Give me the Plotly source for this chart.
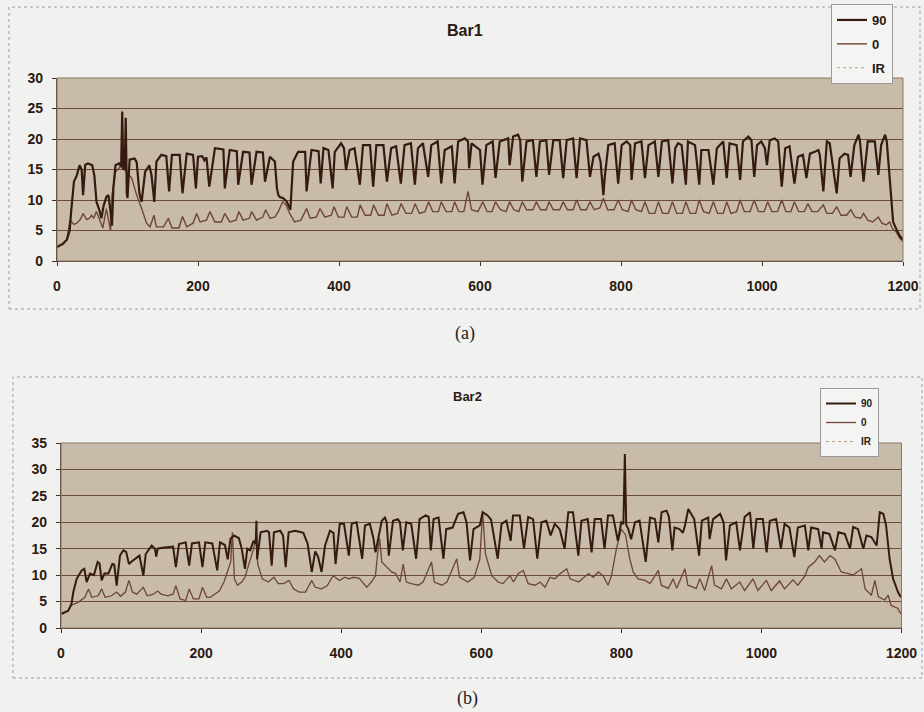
import plotly.graph_objects as go

# ---------------- Data: Bar1 (panel a) ----------------
a90_x = [0,8,14,18,20,24,28,32,35,37,40,44,50,53,56,60,63,66,70,73,76,78,80,83,88,91,92.5,94,96,97.5,99,100,103,110,113,117,120,125,131,134,138,141,148,155,159,163,174,178,184,193,197,200,206,209,212,216,224,236,238,245,255,257,264,273,276,283,292,295,302,309,312,314,316,321,326,331,335,342,352,354,361,371,374,378,385,391,
         394,403,407,410,415,422,429.6,434,444,448.5,453,463,468,474,481,487.7,493,502,507.6,512,519,526.5,531,540,545,550,560,564,569,578.5,583,584.6,588,597,600,603.5,609,618,622,628,633,640,642,647,654,657,660,666,675,680,685,694,698,704,713,718,723,732,737,742,751,756,761,768,771,775,777,782,791,796,
         801,808,813,815,820,829,834,839,848,853,858,867,873,877,881,886,892,895,905,911,914,924,931,936,945,950,954,964,969,973,980.6,985,989,993,999,1004,1007,1011,1018,1023,1028,1033,1039,1046,1051,1058,1063,1068,1075,1080,1082,1087,1092,1096,1106,1110,1117,1122,1125.6,1131,1137,1139,1144,1150,1160,1165,1169,1174.6,1177,1181.5,1184,1186,1191,1196,1200]
a90_y = [2.3,2.8,3.5,5,8,13,14,15.7,15,10.8,15.8,16,15.7,14,9.7,8.4,7,9,10.5,10.8,8,5.8,12,15.7,16,15.5,24.5,15,15.2,23.5,11,10.3,16.6,16.8,16.2,11,9.7,14.6,15.7,14.1,9.7,16.3,17.4,17.2,11.4,17.4,17.4,11.1,17.6,17.4,11.9,17.1,17.2,16.5,17,12.2,18.5,18.3,11.9,18.2,18,12.5,17.9,17.8,12.5,17.9,17.8,13,17.1,16.3,11.9,10.8,10.5,10.3,9.7,8.4,16.3,17.9,17.9,11.4,18.2,18,12.7,18.5,18.2,11.9,
         17.9,19.3,18.5,14.9,18.2,18.5,12.5,19,19,12.2,19,19,13,18.5,18.8,12.7,19,19.3,12.5,18.5,19.3,13.8,19,19.6,12.7,18.2,18.8,12.7,19.6,20.1,19.6,15.2,19.3,18.5,18.2,12.5,19,19.6,13.6,19.6,19.8,20.1,15.7,20.4,20.7,19.8,13,19.6,19.8,13.8,19.6,19.8,14.1,19.8,19.8,13.6,19.8,20.1,13.6,20.1,19.8,13.8,17.1,17.6,16.3,10.8,13.8,19,19.3,12.7,
         19,19.6,19,13.3,19.3,19.6,13.6,19,19.6,13.8,19.6,19.8,12.7,18.5,19.3,19,12.5,19.6,19,12.5,18.2,18.2,12.5,18.5,19.6,13.6,19.3,19,13.3,19.6,20.4,19.8,13.8,19,19.6,18.5,15.7,19.8,20.1,19.6,12.2,18.5,18.8,12.7,17.1,17.4,13.6,17.6,17.9,18.2,17.4,11.4,19.6,19.3,11.1,16.8,17.6,17.4,13.8,19,20.7,19.6,13,19.6,19.6,14.1,19,20.7,19.6,13.6,9.7,6.4,5.1,4,3.5]

a0_x = [0,8,14,18.4,24,28,33,37,42,46,49,52,56,60,65,70,73,76,78,83,90,96,106,113,120,127,132,137.5,141,151,158,163,173,178,184,193,198,203,212,217,224,233,238,245,254,258,264,273,276,283,292,296,302,309,314,320,325,330,337,346,354,359,368,373,380,389,393,399,407,411,418,426,430,437,445,449,456,464,468,475,483,488,495,503,508,514,522,527,533,541,545,552,560,564,570,577,583,588,597,604,610,617,622,629,637,642,648,655,660,666,675,680,686,694,698,704,713,718,724,732,737,743,751,756,762,770,775,781,790,796,802,810,815,821,829,834,840,848,853,859,867,873,879,887,892,898,906,911,917,925,931,937,945,950,956,964,969,975,983,989,995,1003,1008,1014,1022,1028,1034,1041,1046,1052,1060,1065,1071,1079,1087,1092,1100,1106,1112,1120,1126,1132,1140,1144,1150,1157,1165,1170,1176,1181,1185,1190,1195,1200]
a0_y = [2.3,2.8,3.5,6.7,6,6.2,6.8,7.8,6.8,7,7.5,7,8.1,7,5.4,8.6,7,5,10.8,14.6,15.5,14.9,13.6,10.8,8.6,6.2,5.6,7.5,5.6,5.6,7,5.4,5.4,7.3,5.6,6.2,7.8,6.4,6.7,8.1,6.4,6.4,7.8,6.4,6.7,8.1,6.7,7,8.1,6.7,7.2,8.4,7,7.2,8.1,9.7,9.2,7.8,6.4,6.7,8.6,7,7.2,8.6,7.2,7.5,8.9,7.2,7.2,8.9,7.2,7.2,9.2,7.5,7.5,9.2,7.5,7.5,9.4,7.5,7.8,9.4,7.8,7.8,9.4,7.8,8.1,9.7,8.1,8.1,9.7,8.1,8.1,9.7,8.1,8.1,11.4,8.4,8.1,9.7,8.1,8.1,9.7,8.4,8.1,9.7,8.4,8.1,9.7,8.4,8.4,9.7,8.4,8.4,9.7,8.4,8.4,9.7,8.4,8.4,10,8.4,8.4,9.7,8.4,8.7,10.3,8.4,8.4,10,8.4,8.1,10,8.4,8.1,9.7,7.8,7.8,9.7,7.8,7.8,9.7,7.8,7.8,9.7,7.8,7.8,10,8.1,7.8,9.7,7.8,7.8,9.7,7.8,8.1,10,8.1,8.1,10,8.1,8.1,9.7,8.1,8.1,10,8.1,8.1,9.7,8.1,8.1,9.4,8.1,8.1,9.2,7.8,7.8,8.9,7.5,7.5,8.4,7.2,7,7.8,6.7,6.4,7.2,6.2,5.9,6.4,5.3,4.8,3.8,3.2]

aIR_x = [0,10,18,None,1160,1175,1185,1192,1200]
aIR_y = [2.1,2.6,4.5,None,6.0,5.4,4.6,3.4,2.7]

# ---------------- Data: Bar2 (panel b) ----------------
b90_x = [1,10.5,15,17.6,22.4,29.5,33.3,36.6,41.4,47,52.3,55,58,62,67.6,73.3,76,79.5,84.2,89,93,97,100,105.6,112,117.6,121,129.5,134,136,138,145,154,160,164,168.5,178,183,187,197,202,206,216,223,227,234,238,242,247,254,258,262.6,266,270,275,278,279,280,285,294,297,300.8,304,313,317,320.8,325,334,340,346,352,355.5,358,363,367,372,377,384,389,392,398,
         404,411,415,422,430,434,441,446,449,453,458,462.5,465,468,474,481,484,488,493,500,507,512,520.6,525,528,532,539,546,550,559,567,574.6,579,584,589,598,602,609,614,623.5,629,636,642,645.4,655,661,667,674,680,686,693,699,705,712,719,724.3,731,738.6,743,752,757.6,762,771,776,781,788,795,800,
         803,805,807,810,814,819.5,826,834.8,841,848,852.8,857.5,864.6,868,872.8,876,883,888,891,895.6,904,911,915,924,926,931,941,946,949.5,955,964,969.4,976,983.7,988.4,993,1002,1007.4,1012,1021,1027.8,1033,1040,1047,1052,1062,1066.9,1071,1081,1086,1088,1097,1105,1110,1119,1126.5,1131,1138,1145.5,1150,1157,1164.5,1169,1174,1178,1183,1188,1195,1199]
b90_y = [2.7,3.3,4.6,6.8,9.3,10.9,11.2,8.7,10.3,10,12.5,12.2,9,10.3,10.3,12.1,12,8,13.7,14.7,14.4,12.1,12.5,13.1,13.7,9.9,14,15.6,15,13.5,15,15.2,15.4,15.4,11.5,15.9,16.2,11.8,16,16.2,11.5,16.2,16,10.9,16.2,15.7,13,16.9,17.5,17,15,11.2,15,14.7,16.5,16,20.3,13,18.1,18.4,18.1,11.8,18.1,18.4,17.5,11.5,18.1,18.4,18.2,18,16,12.5,10.6,14.5,13.5,10.6,15.6,18.4,18,12.1,19.7,
         19.7,13.7,19.7,20,13.1,19.4,19.7,17,14.3,17,20.3,20.9,20,13.7,20.3,20.6,20,14.7,20,19.7,13.1,20.6,21.3,21,14.7,20.6,20.9,13.1,18.7,19,21.6,21.9,20,12.8,18.7,19.4,21.9,21.3,20.5,13.1,19.7,20.3,16.5,21.3,21.3,15,21,20.6,13.1,20,20.3,17.5,19.7,18.7,15,21.9,21.9,13.7,20.3,20.6,14.3,20.6,20.6,15,21.3,21.3,16.5,20,
         19.7,32.9,19.5,18.7,16.8,20,20.3,12.5,20.9,20.6,16.2,21.9,22.2,21,14.7,19,18.7,18,19.5,22.5,20.6,13.7,20.3,20.9,16.8,20.6,21.6,20,12.8,19.4,20,14.7,21,21.9,15,20.6,20.6,14.3,20.3,20.6,15,19.7,19,13.4,19,19.4,14.7,19,18.7,15,18.1,17.8,14.7,18.1,17.8,15,19.1,18.7,15,17.5,17.2,15.6,21.9,21.6,19.4,13.1,9.3,6.8,5.8]

b0_x = [1,10.5,15,25,34,39.3,44,53,58,63,72,79.5,85,92,97,102,108,117.6,123,132,138,143,152,160,164,170,178,183,189,197,202,208,213,220,226,232.7,238,242.3,244.7,246,247.6,252,258,262.6,268,275,278,281,287.5,296,304,310,318,325.5,332,340,349,358,363,372,380,388.5,397.6,405,411,418,426,432,436.5,443,449,452,455,458,465,472,478,484,488.5,493,500,510,517,529,533,544,551,565,569,581,590,598,602,606,615,624,631,641,646,653,660,667,677,684,691,698,705,713,722,727,739,753,760,767,774,781,786,793,800,806,812,817,824,834,841,852.8,857,867,874,879,890.8,895,907,912,919,928.9,933,943,950,957,969,976,988,995,1007,1014,1026,1033,1045,1052,1062,1067,1076,1083,1090,1098,1105,1114,1124,1131,1143,1148,1157,1162,1167,1176,1181,1185,1195,1199]
b0_y = [2.7,3.3,4.3,4.9,5.8,7.4,5.8,6.1,7.4,5.8,6.1,6.8,6,6.8,9,6.8,6.4,7.7,6.1,6.4,7,6.4,6.1,6.4,8,5.5,5.2,7.4,5.5,5.5,7.7,5.8,5.8,6.4,7,8.7,11,12.5,18.1,12,9.3,8.1,8.7,9.6,12,15,17,12,9.3,8.7,9.6,8.4,8.4,9,7.4,6.8,6.8,9,7.7,7.4,8,9.9,9,9.6,9.3,9.6,9.4,8.4,7.7,8.7,9.9,14,16.9,12.5,11.5,10.6,10.3,8.7,12.1,8.7,8.4,8.1,8.7,12.5,8.7,8.1,8.7,13.1,9.6,8.7,9.6,13.1,21.9,14,9.9,8.7,8.4,9.9,8.7,10.3,10.9,8.4,8.1,8.7,7.7,9.6,9.3,10.3,11.2,9.3,8.7,10.3,9.6,10.6,9.9,8.1,9.9,15,18.7,17.6,13.1,10.6,9.3,9,8.4,10.9,8.1,7.5,9.3,7.5,11.2,8.1,7.5,9.3,7.1,11.8,8.1,7.4,9.3,7.4,8.7,7.1,9.3,7.1,9,7.1,8.9,7.4,9.1,8.1,9.8,11.5,12.5,13.7,12.5,13.7,13,10.6,10.3,10,11.2,7.4,6.2,9,5.9,5.3,6.2,4.3,3.7,2.7]

bIR_x = [0,12,None,1170,1180,1188,1195,1200]
bIR_y = [2.5,3.0,None,5.2,4.6,3.8,3.0,2.4]

x_ticks = [0, 200, 400, 600, 800, 1000, 1200]
series_names = ["90", "0", "IR"]

# ---------------- Styles ----------------
W, H = 924, 712
C90 = "#351a10"
C0 = "#6e4634"
CIR = "#b8a08a"
TXT = "#2a1a12"
GRID = "#6b4a36"
PAPER = "#f1f1ef"
FONT = "Liberation Sans"

fig = go.Figure()

def add_series(xs, ys, name, color, width, dash, xa, ya, leg, grp, rank):
    fig.add_trace(go.Scatter(
        x=xs, y=ys, name=name, mode="lines",
        line=dict(color=color, width=width, dash=dash),
        xaxis=xa, yaxis=ya, legend=leg, legendgroup=grp, legendrank=rank,
        connectgaps=False, hoverinfo="skip"))

add_series(aIR_x, aIR_y, series_names[2], CIR, 1, "dot", "x", "y", "legend", "a3", 3)
add_series(a0_x, a0_y, series_names[1], C0, 1.4, "solid", "x", "y", "legend", "a2", 2)
add_series(a90_x, a90_y, series_names[0], C90, 2.2, "solid", "x", "y", "legend", "a1", 1)
add_series(bIR_x, bIR_y, series_names[2], CIR, 1, "dot", "x2", "y2", "legend2", "b3", 3)
add_series(b0_x, b0_y, series_names[1], C0, 1.3, "solid", "x2", "y2", "legend2", "b2", 2)
add_series(b90_x, b90_y, series_names[0], C90, 2.0, "solid", "x2", "y2", "legend2", "b1", 1)

def px_x(p):
    return p / W

def px_y(p):
    return 1 - p / H

axis_common = dict(showline=True, linecolor="#4a3024", linewidth=1.2,
                   ticks="outside", tickcolor="#4a3024", ticklen=4,
                   zeroline=False)

def label(text, x, y, size, family=FONT, weight="bold", color=TXT):
    return dict(text=text, x=px_x(x), y=px_y(y), xref="paper", yref="paper",
                xanchor="center", yanchor="middle", showarrow=False,
                font=dict(size=size, family=family, weight=weight, color=color))

fig.update_layout(
    width=W, height=H, autosize=False,
    margin=dict(l=0, r=0, t=0, b=0, autoexpand=False),
    paper_bgcolor=PAPER,
    plot_bgcolor="#c8bba9",
    font=dict(family=FONT, color=TXT),
    xaxis=dict(domain=[px_x(57), px_x(903)], anchor="y", range=[0, 1200],
               tickvals=x_ticks, showgrid=False,
               tickfont=dict(size=14, weight="bold", color=TXT),
               ticklabelstandoff=8, **axis_common),
    yaxis=dict(domain=[px_y(261), px_y(78)], anchor="x", range=[0, 30],
               dtick=5, showgrid=True, gridcolor=GRID, gridwidth=1.4,
               tickfont=dict(size=14, weight="bold", color=TXT),
               ticklabelstandoff=6, **axis_common),
    xaxis2=dict(domain=[px_x(61), px_x(901.5)], anchor="y2", range=[0, 1200],
                tickvals=x_ticks, showgrid=False,
                tickfont=dict(size=14, weight="bold", color=TXT),
                ticklabelstandoff=8, **axis_common),
    yaxis2=dict(domain=[px_y(628), px_y(443)], anchor="x2", range=[0, 35],
                dtick=5, showgrid=True, gridcolor=GRID, gridwidth=1.4,
                tickfont=dict(size=14, weight="bold", color=TXT),
                ticklabelstandoff=6, **axis_common),
    legend=dict(x=px_x(831), y=px_y(4), xanchor="left", yanchor="top",
                bgcolor="#f4f4f2", bordercolor="#9a9a9a", borderwidth=1,
                font=dict(size=13, weight="bold", color=TXT),
                traceorder="grouped", tracegroupgap=4, itemwidth=30),
    legend2=dict(x=px_x(820), y=px_y(388), xanchor="left", yanchor="top",
                 bgcolor="#f4f4f2", bordercolor="#9a9a9a", borderwidth=1,
                 font=dict(size=10, weight="bold", color=TXT),
                 traceorder="grouped", tracegroupgap=0, itemwidth=30),
    shapes=[
        dict(type="rect", xref="paper", yref="paper",
             x0=px_x(9), x1=px_x(920), y0=px_y(309), y1=px_y(7),
             line=dict(color="#9c9c9c", width=1, dash="dot"), layer="below"),
        dict(type="rect", xref="paper", yref="paper",
             x0=px_x(13), x1=px_x(922), y0=px_y(678), y1=px_y(377),
             line=dict(color="#9c9c9c", width=1, dash="dot"), layer="below"),
        dict(type="rect", xref="x domain", yref="y domain", x0=0, x1=1, y0=0, y1=1,
             line=dict(color="#8a7866", width=1), layer="above"),
        dict(type="rect", xref="x2 domain", yref="y2 domain", x0=0, x1=1, y0=0, y1=1,
             line=dict(color="#8a7866", width=1), layer="above"),
    ],
    annotations=[
        label("Bar1", 465, 30, 16),
        label("Bar2", 468, 397, 13),
        label("(a)", 465, 333, 18, family="Liberation Serif", weight="normal", color="#222"),
        label("(b)", 468, 698, 18, family="Liberation Serif", weight="normal", color="#222"),
    ],
)

fig.write_html(
    "out.html",
    config={"displayModeBar": False},
    post_script="document.body.style.margin='0';document.body.style.background='%s';" % PAPER,
)
